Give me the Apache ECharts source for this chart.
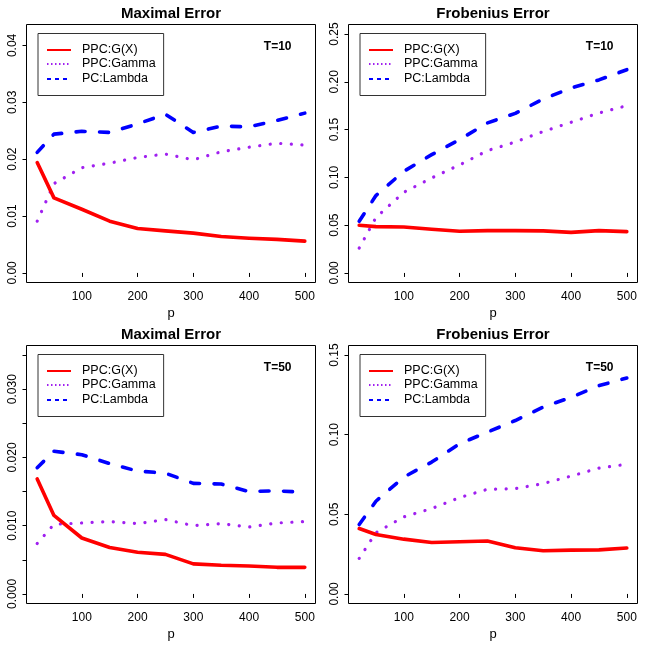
<!DOCTYPE html>
<html>
<head>
<meta charset="utf-8">
<script src="https://cdn.jsdelivr.net/npm/echarts@6/dist/echarts.min.js"></script>
<style>
html,body{margin:0;padding:0;background:#fff;}
#chart{width:645px;height:649px;}
</style>
</head>
<body>
<div id="chart"></div>
<script>
// ---- data ----
const p = [20, 50, 100, 150, 200, 250, 300, 350, 400, 450, 500];

// Panel 1: Maximal Error, T=10
const gx1  = [0.0194, 0.0132, 0.0112, 0.0091, 0.0078, 0.0074, 0.0070, 0.0064, 0.0061, 0.0059, 0.0056];
const gam1 = [0.0091, 0.0157, 0.0185, 0.0193, 0.0203, 0.0209, 0.0199, 0.0213, 0.0221, 0.0228, 0.0225];
const lam1 = [0.0212, 0.0244, 0.0249, 0.0247, 0.0262, 0.0279, 0.0247, 0.0258, 0.0257, 0.0268, 0.0281];

// Panel 2: Frobenius Error, T=10
const gx2  = [0.0499, 0.0485, 0.0481, 0.0457, 0.0436, 0.0443, 0.0443, 0.0440, 0.0425, 0.0443, 0.0432];
const gam2 = [0.0260, 0.0580, 0.0844, 0.0994, 0.1130, 0.1280, 0.1370, 0.1480, 0.1576, 0.1674, 0.1750];
const lam2 = [0.0540, 0.0810, 0.1063, 0.1238, 0.1395, 0.1570, 0.1670, 0.1820, 0.1935, 0.2020, 0.2127];

// Panel 3: Maximal Error, T=50
const gx3  = [0.01685, 0.0115, 0.0082, 0.0068, 0.0061, 0.0058, 0.0044, 0.0042, 0.0041, 0.0039, 0.0039];
const gam3 = [0.0074, 0.0102, 0.0104, 0.0106, 0.0103, 0.0109, 0.0100, 0.0103, 0.0098, 0.0104, 0.0106];
const lam3 = [0.0185, 0.0209, 0.0204, 0.0191, 0.0180, 0.0177, 0.0162, 0.0161, 0.0150, 0.0151, 0.0149];

// Panel 4: Frobenius Error, T=50
const gx4  = [0.0411, 0.0373, 0.0344, 0.0323, 0.0328, 0.0332, 0.0290, 0.0271, 0.0275, 0.0277, 0.0288];
const gam4 = [0.0223, 0.0385, 0.0484, 0.0536, 0.0605, 0.0657, 0.0661, 0.0693, 0.0740, 0.0790, 0.0814];
const lam4 = [0.0436, 0.0582, 0.0734, 0.0828, 0.0943, 0.1016, 0.1089, 0.1173, 0.1235, 0.1308, 0.1356];

const seriesNames = ['PPC:G(X)', 'PPC:Gamma', 'PC:Lambda'];
const titles = ['Maximal Error', 'Frobenius Error', 'Maximal Error', 'Frobenius Error'];
const tLabels = ['T=10', 'T=10', 'T=50', 'T=50'];
const xTicks = [100, 200, 300, 400, 500];
const yTicks = [
  [0, 0.01, 0.02, 0.03, 0.04],
  [0, 0.05, 0.10, 0.15, 0.20, 0.25],
  [0, 0.005, 0.01, 0.015, 0.02, 0.025, 0.03, 0.035],
  [0, 0.05, 0.10, 0.15]
];
const yLabels = [
  [0, 0.01, 0.02, 0.03, 0.04],
  [0, 0.05, 0.10, 0.15, 0.20, 0.25],
  [0, 0.01, 0.02, 0.03],
  [0, 0.05, 0.10, 0.15]
];
const yDigits = [2, 2, 3, 2];
const yLim = [[0, 0.042], [0, 0.25], [0, 0.035], [0, 0.15]];
const xLim = [20, 500];
const panels = [[gx1, gam1, lam1], [gx2, gam2, lam2], [gx3, gam3, lam3], [gx4, gam4, lam4]];

// ---- layout / style ----
const FONT = '"Liberation Sans", Arial, Helvetica, sans-serif';
const grids = [
  {left: 26.5, top: 24.5, width: 289, height: 258},
  {left: 348.5, top: 24.5, width: 289, height: 258},
  {left: 26.5, top: 345.5, width: 289, height: 258},
  {left: 348.5, top: 345.5, width: 289, height: 258}
];
function ext(lim) { const r = lim[1] - lim[0]; return [lim[0] - 0.04 * r, lim[1] + 0.04 * r]; }
const colors = ['#FF0000', '#A020F0', '#0000FF'];
const lineStyles = [
  {width: 3.6, type: 'solid', cap: 'round', join: 'round'},
  {width: 3.2, type: [0.1, 10.5], cap: 'round', join: 'round'},
  {width: 3.6, type: [9, 14.5], cap: 'round', join: 'round'}
];
const legendDash = [null, [1.5, 2.5], [4, 4]];
const SEP = '#';
const uname = (k, i) => seriesNames[k] + SEP + i;

// legend box geometry (relative to grid)
const LG = {dx: 11.5, dy: 9, padT: 9, padL: 9, itemW: 24, itemH: 14, gap: 0.5};

const xAxes = [], yAxes = [], series = [], legends = [], graphics = [];
grids.forEach((g, i) => {
  const xr = ext(xLim), yr = ext(yLim[i]);
  xAxes.push({
    type: 'value', gridIndex: i, min: xr[0], max: xr[1],
    axisLine: {show: false},
    axisTick: {show: true, length: 4, lineStyle: {color: '#000', width: 1}, customValues: xTicks},
    axisLabel: {show: true, customValues: xTicks, color: '#000', fontSize: 12, fontFamily: FONT, margin: 8},
    splitLine: {show: false},
    name: 'p', nameLocation: 'middle', nameGap: 24,
    nameTextStyle: {color: '#000', fontSize: 13, fontFamily: FONT}
  });
  yAxes.push({
    type: 'value', gridIndex: i, min: yr[0], max: yr[1],
    axisLine: {show: false},
    axisTick: {show: true, length: 4, lineStyle: {color: '#000', width: 1}, customValues: yTicks[i]},
    axisLabel: {show: true, customValues: yLabels[i], rotate: 90, color: '#000', fontSize: 12,
      fontFamily: FONT, margin: 8, formatter: v => Number(v).toFixed(yDigits[i])},
    splitLine: {show: false}
  });
  panels[i].forEach((arr, k) => {
    series.push({
      type: 'line', name: uname(k, i), xAxisIndex: i, yAxisIndex: i,
      data: p.map((x, j) => [x, arr[j]]),
      symbol: 'none', showSymbol: false, smooth: false,
      color: colors[k],
      itemStyle: {color: colors[k]},
      lineStyle: Object.assign({color: colors[k]}, lineStyles[k]),
      z: 3 - k
    });
  });
  const L = g.left + LG.dx, T = g.top + LG.dy;
  legends.push({
    orient: 'vertical', left: L, top: T,
    itemWidth: LG.itemW, itemHeight: LG.itemH, itemGap: LG.gap,
    padding: [LG.padT, 8, 10, LG.padL],
    borderColor: '#333', borderWidth: 1, backgroundColor: '#fff',
    selectedMode: false,
    icon: 'rect',
    itemStyle: {opacity: 0},
    formatter: n => n.split(SEP)[0],
    textStyle: {fontSize: 12.5, color: '#000', fontFamily: FONT, lineHeight: 14, padding: [0, 0, 0, 6]},
    data: seriesNames.map((n, k) => ({name: uname(k, i), icon: 'rect', itemStyle: {opacity: 0}}))
  });
  // legend line samples (2px, pixel-aligned so the colour stays visible)
  seriesNames.forEach((n, k) => {
    const cy = Math.round(T + LG.padT + LG.itemH / 2 + k * (LG.itemH + LG.gap));
    graphics.push({
      type: 'line', z: 200, silent: true,
      shape: {x1: Math.round(L + LG.padL), y1: cy, x2: Math.round(L + LG.padL) + LG.itemW, y2: cy},
      style: {stroke: colors[k], lineWidth: 2, lineDash: legendDash[k]}
    });
  });
  graphics.push({
    type: 'text', x: g.left + g.width / 2, y: g.top - 11,
    style: {text: titles[i], font: 'bold 15px ' + FONT, fill: '#000', textAlign: 'center', textVerticalAlign: 'middle'}
  });
  graphics.push({
    type: 'text', x: g.left + g.width - 24, y: g.top + 22.5,
    style: {text: tLabels[i], font: 'bold 12px ' + FONT, fill: '#000', textAlign: 'right', textVerticalAlign: 'middle'}
  });
});

const chart = echarts.init(document.getElementById('chart'), null, {renderer: 'canvas'});
chart.setOption({
  animation: false,
  backgroundColor: '#fff',
  grid: grids.map(g => Object.assign({show: true, borderColor: '#000', borderWidth: 1, backgroundColor: 'transparent'}, g)),
  xAxis: xAxes,
  yAxis: yAxes,
  legend: legends,
  series: series,
  graphic: graphics
});
</script>
</body>
</html>
